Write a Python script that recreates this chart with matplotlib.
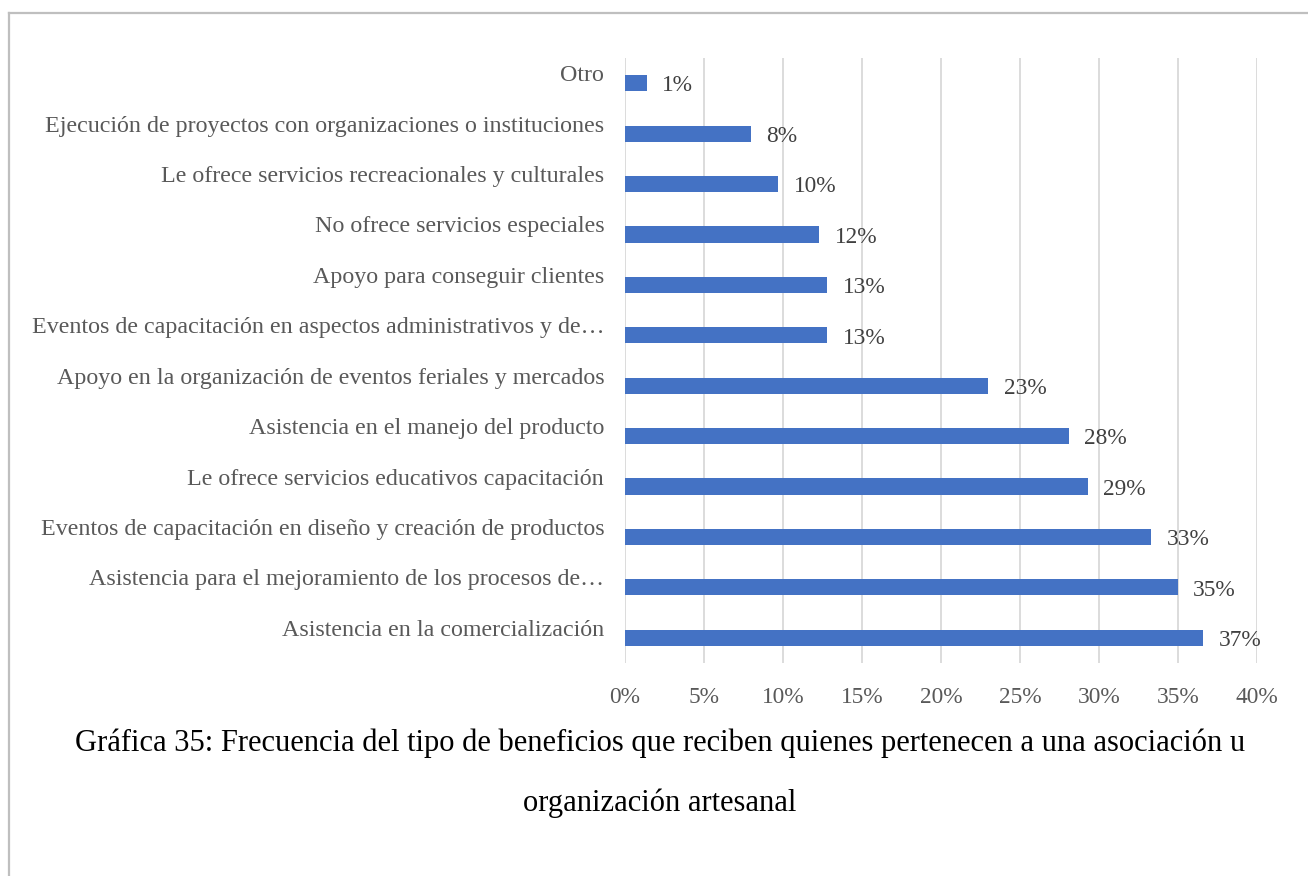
import matplotlib
matplotlib.use('Agg')
import matplotlib.pyplot as plt
import matplotlib.transforms as mtransforms
from matplotlib.lines import Line2D

categories = [
    "Otro",
    "Ejecución de proyectos con organizaciones o instituciones",
    "Le ofrece servicios recreacionales y culturales",
    "No ofrece servicios especiales",
    "Apoyo para conseguir clientes",
    "Eventos de capacitación en aspectos administrativos y de…",
    "Apoyo en la organización de eventos feriales y mercados",
    "Asistencia en el manejo del producto",
    "Le ofrece servicios educativos capacitación",
    "Eventos de capacitación en diseño y creación de productos",
    "Asistencia para el mejoramiento de los procesos de…",
    "Asistencia en la comercialización",
]
values = [1.4, 7.95, 9.7, 12.3, 12.8, 12.8, 23.0, 28.1, 29.3, 33.3, 35.0, 36.6]
labels = ["1%", "8%", "10%", "12%", "13%", "13%", "23%", "28%", "29%", "33%", "35%", "37%"]
xticks = [0, 5, 10, 15, 20, 25, 30, 35, 40]
title_lines = ["Gráfica 35: Frecuencia del tipo de beneficios que reciben quienes pertenecen a una asociación u",
               "organización artesanal"]

plt.rcParams['font.family'] = ['Liberation Serif', 'DejaVu Serif']

fig = plt.figure(figsize=(13.08, 8.76), dpi=100)
ax = fig.add_axes([625 / 1308, 1 - 663 / 876, 632 / 1308, 605 / 876])

n = len(categories)
ypos = list(range(n))
ax.barh(ypos, values, height=0.32, color='#4472C4', zorder=3)
ax.set_ylim(n - 0.5, -0.5)
ax.set_xlim(0, 40)

for y, v, lab in zip(ypos, values, labels):
    ax.annotate(lab, (v, y), xytext=(11, -2), textcoords='offset points',
                ha='left', va='center', fontsize=16.8, color='#404040')

ax.set_yticks(ypos)
ax.set_yticklabels(categories, fontsize=17.3, color='#595959')
ax.tick_params(axis='y', length=0, pad=15)
offset = mtransforms.ScaledTranslation(0, 10 / 100, fig.dpi_scale_trans)
for t in ax.get_yticklabels():
    t.set_transform(t.get_transform() + offset)

ax.set_xticks(xticks)
ax.set_xticklabels([f"{x}%" for x in xticks], fontsize=16.8, color='#595959')
ax.tick_params(axis='x', length=0, pad=17)

ax.grid(axis='x', color='#D9D9D9', linewidth=1.3, zorder=0)
for s in ax.spines.values():
    s.set_visible(False)

# caption, two centred lines
for i, line in enumerate(title_lines):
    fig.text(660 / 1308, 1 - (743 + 60 * i) / 876, line, ha='center', va='center',
             fontsize=22, color='black')

# page frame
fig.add_artist(Line2D([8.5 / 1308, 1], [1 - 12.5 / 876] * 2, color='#BFBFBF', lw=1.6))
fig.add_artist(Line2D([8.5 / 1308] * 2, [0, 1 - 12.5 / 876], color='#BFBFBF', lw=1.6))

fig.savefig('out.png', dpi=100)
